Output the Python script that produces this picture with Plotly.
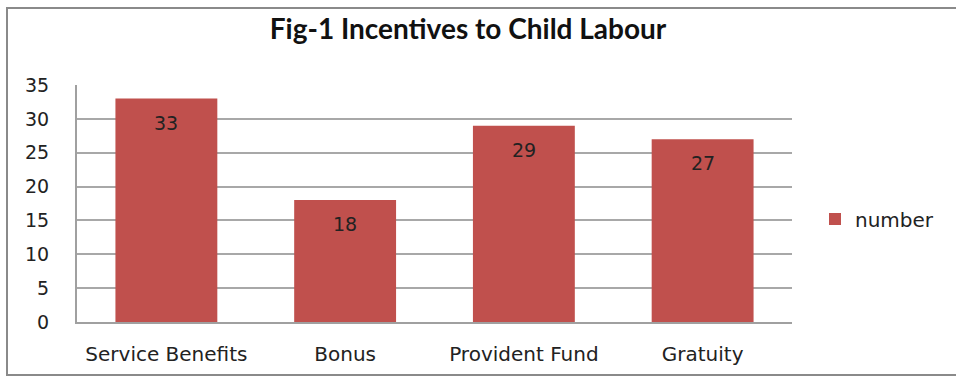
import plotly.graph_objects as go

categories = ["Service Benefits", "Bonus", "Provident Fund", "Gratuity"]
values = [33, 18, 29, 27]
series_name = "number"
title_text = "Fig-1 Incentives to Child Labour"
y_ticks = [0, 5, 10, 15, 20, 25, 30, 35]

W, H = 956, 376
L, R, T, B = 77, 164, 85, 54
pw, ph = W - L - R, H - T - B

fig = go.Figure()
fig.add_trace(go.Bar(
    x=categories, y=values, name=series_name,
    marker=dict(color="#C0504D", line=dict(width=0)),
    showlegend=True,
))

for c, v in zip(categories, values):
    fig.add_annotation(x=c, y=v, text=str(v), showarrow=False, yanchor="middle",
                       yshift=-24, font=dict(family="DejaVu Sans", size=19, color="#222222"))

def px_to_paper_x(px):
    return (px - L) / pw

def px_to_paper_y(py):
    return (H - B - py) / ph

fig.add_shape(type="rect", xref="paper", yref="paper",
              x0=px_to_paper_x(7), x1=px_to_paper_x(970),
              y0=px_to_paper_y(375), y1=px_to_paper_y(8),
              line=dict(color="#8A8A8A", width=2), fillcolor="rgba(0,0,0,0)", layer="below")

fig.update_layout(
    width=W, height=H,
    margin=dict(l=L, r=R, t=T, b=B, autoexpand=False),
    paper_bgcolor="white", plot_bgcolor="white",
    bargap=0.43,
    title=dict(text="<b>" + title_text + "</b>", x=468 / W, xanchor="center",
               y=1 - 29 / H, yanchor="middle",
               font=dict(family="Lato", size=28, color="#111111")),
    legend=dict(x=px_to_paper_x(815), y=px_to_paper_y(219), xref="paper", yref="paper",
                xanchor="left", yanchor="middle",
                font=dict(family="DejaVu Sans", size=20, color="#222222"),
                itemwidth=30, bgcolor="rgba(0,0,0,0)"),
    font=dict(family="DejaVu Sans", size=19, color="#333333"),
)
fig.update_xaxes(showline=True, linecolor="#A0A0A0", linewidth=2, mirror=False,
                 ticks="", ticklabelstandoff=13,
                 tickfont=dict(family="DejaVu Sans", size=20, color="#222222"),
                 showgrid=False)
fig.update_yaxes(range=[0, 35], tickvals=y_ticks, showline=True, linecolor="#A0A0A0",
                 linewidth=2, gridcolor="#A8A8A8", gridwidth=1.5, ticks="",
                 ticklabelstandoff=22,
                 tickfont=dict(family="DejaVu Sans", size=19, color="#222222"),
                 zeroline=False)

fig.write_html("out.html")
